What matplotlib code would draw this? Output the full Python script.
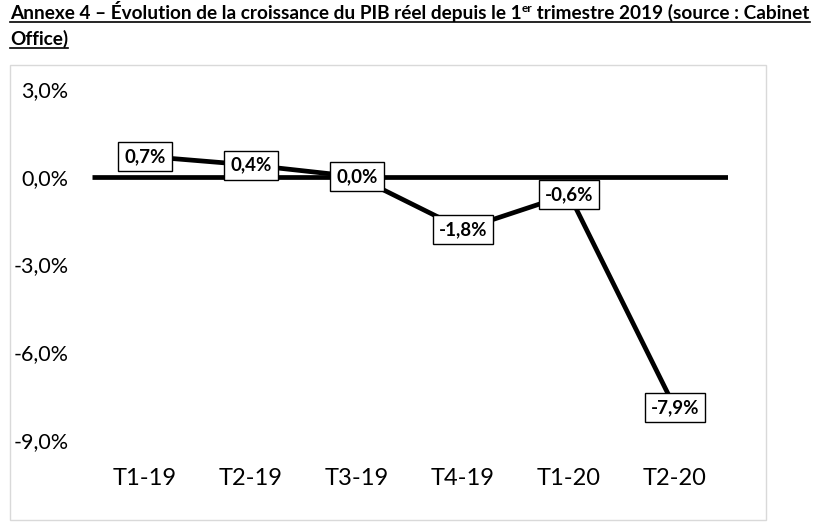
import matplotlib
matplotlib.use("Agg")
import matplotlib.pyplot as plt
from matplotlib.patches import Rectangle
from matplotlib.lines import Line2D

categories = ["T1-19", "T2-19", "T3-19", "T4-19", "T1-20", "T2-20"]
values = [0.7, 0.4, 0.0, -1.8, -0.6, -7.9]
ytick_vals = [3, 0, -3, -6, -9]
ytick_labels = ["3,0%", "0,0%", "-3,0%", "-6,0%", "-9,0%"]
title_part1 = "Annexe 4 – Évolution de la croissance du PIB réel depuis le 1"
title_sup = "er"
title_part2 = " trimestre 2019 (source : Cabinet"
title_line2 = "Office)"

FONT = "Lato"
plt.rcParams["font.family"] = [FONT, "DejaVu Sans"]

W, H = 832, 526
fig = plt.figure(figsize=(W / 100, H / 100), dpi=100)

def px(x, y):
    return x / W, 1 - y / H

# Chart border
fig.patches.append(Rectangle(px(10, 520), (766 - 10) / W, (520 - 65) / H,
                             transform=fig.transFigure, fill=False,
                             edgecolor="#d9d9d9", linewidth=1.0))

left, right, top, bottom = 92, 728, 89, 440
ax = fig.add_axes([left / W, 1 - bottom / H, (right - left) / W, (bottom - top) / H])
x = list(range(len(categories)))
ax.set_xlim(-0.5, len(categories) - 0.5)
ax.set_ylim(-9, 3)
ax.axhline(0, color="black", linewidth=3.4, solid_capstyle="butt", zorder=2)
ax.plot(x, values, color="black", linewidth=3.4, solid_capstyle="round", zorder=3)
for xi, v in zip(x, values):
    ax.text(xi, v, f"{v:.1f}%".replace(".", ","), ha="center", va="center",
            fontsize=13.5, fontweight="bold", zorder=4,
            bbox=dict(boxstyle="square,pad=0.32", facecolor="white",
                      edgecolor="black", linewidth=1.0))
ax.set_xticks(x)
ax.set_xticklabels(categories, fontsize=17)
ax.set_yticks(ytick_vals)
ax.set_yticklabels(ytick_labels, fontsize=15.5)
ax.tick_params(length=0, axis="y", pad=17)
ax.tick_params(length=0, axis="x", pad=20)
for s in ax.spines.values():
    s.set_visible(False)

# Title with superscript and underline
fig.canvas.draw()
r = fig.canvas.get_renderer()
fs = 13.7
y1 = 19
t1 = fig.text(*px(10, y1), title_part1, fontsize=fs, fontweight="bold", va="baseline")
bb1 = t1.get_window_extent(r)
ts = fig.text(bb1.x1 / W, (H - y1 + 7) / H, title_sup, fontsize=fs * 0.62,
              fontweight="bold", va="baseline")
bbs = ts.get_window_extent(r)
t2 = fig.text(bbs.x1 / W, 1 - y1 / H, title_part2, fontsize=fs, fontweight="bold", va="baseline")
bb2 = t2.get_window_extent(r)
y2 = 45
t3 = fig.text(*px(10, y2), title_line2, fontsize=fs, fontweight="bold", va="baseline")
bb3 = t3.get_window_extent(r)
for x0, x1_, yy in [(10, bb2.x1, y1), (10, bb3.x1, y2)]:
    fig.add_artist(Line2D([x0 / W, x1_ / W], [1 - (yy + 3) / H] * 2,
                          transform=fig.transFigure, color="black", linewidth=1.2))

fig.savefig("out.png", dpi=100)
